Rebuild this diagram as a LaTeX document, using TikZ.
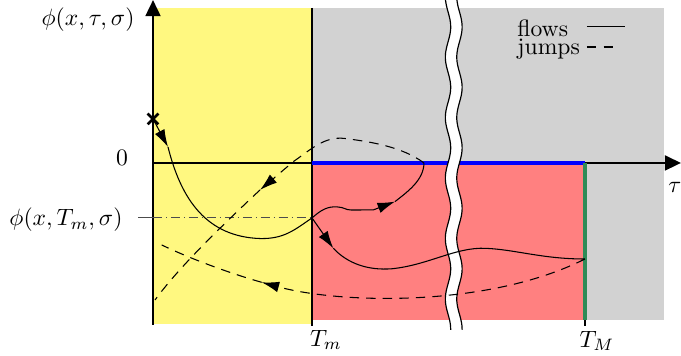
\documentclass[tikz,border=0pt]{standalone}
\usepackage{amsmath,amssymb}
\usepackage{xcolor}
\usetikzlibrary{arrows.meta}
\definecolor{seagrn}{RGB}{46,139,87}

\begin{document}
\begin{tikzpicture}[>={Latex[length=2.6mm,width=1.6mm]},
  fl/.style={black,line width=0.45pt},
  jp/.style={black,line width=0.45pt,dash pattern=on 4pt off 3pt},
  ax/.style={line width=1.1pt,-{Triangle[length=2.4mm,width=2.2mm]}}]
  \useasboundingbox (-2.277,-2.872) rectangle (7.857,2.425);
  % regions
  \fill[yellow!50] (0,-2.396) rectangle (2.366,2.306);
  \fill[gray!35] (2.366,-2.336) rectangle (7.604,2.306);
  \fill[red!50] (2.366,-2.336) rectangle (6.428,0);
  \draw[line width=0.5pt] (2.366,2.306) -- (2.366,-2.43);
  \draw[line width=0.5pt] (6.428,-2.336) -- (6.428,-2.43);
  % axes
  \draw[ax] (0,-2.41) -- (0,2.425);
  \draw[ax] (0,0) -- (7.857,0);
  \draw[blue,line width=1.8pt] (2.366,0) -- (6.428,0);
  \draw[seagrn,line width=1.8pt] (6.428,0) -- (6.428,-2.336);
  % break
  \fill[white] plot[domain=-2.485:2.425,samples=70,smooth,variable=\t] ({4.39+0.04*sin(400*\t)},\t)
    -- plot[domain=2.425:-2.485,samples=70,smooth,variable=\t] ({4.56+0.04*sin(400*\t)},\t) -- cycle;
  \draw[line width=0.5pt] plot[domain=-2.485:2.425,samples=70,smooth,variable=\t] ({4.39+0.04*sin(400*\t)},\t);
  \draw[line width=0.5pt] plot[domain=-2.485:2.425,samples=70,smooth,variable=\t] ({4.56+0.04*sin(400*\t)},\t);
  % labels
  \node (phi) at (-0.967,2.128) {$\phi(x,\tau,\sigma)$};
  \node (zero) at (-0.461,0.074) {$0$};
  \node (phim) at (-1.295,-0.848) {$\phi(x,T_m,\sigma)$};
  \node (tau) at (7.767,-0.357) {$\tau$};
  \node (Tm) at (2.574,-2.634) {$T_m$};
  \node (TM) at (6.607,-2.65) {$T_M$};
  \node[anchor=base west,inner sep=0pt] (lf) at (5.416,1.88) {flows};
  \node[anchor=base west,inner sep=0pt] (lj) at (5.416,1.607) {jumps};
  \draw[fl] (6.458,2.024) -- (7.023,2.024);
  \draw[jp] (6.458,1.726) -- (6.875,1.726);
  % key points
  \coordinate (x0) at (0,0.655);
  \coordinate (tm) at (2.366,-0.818);
  \coordinate (hit) at (4.032,0);
  \coordinate (tM) at (6.428,-1.429);
  \draw[black!70,line width=0.45pt] (-0.223,-0.818) -- (0,-0.818);
  \draw[black!70,line width=0.45pt,dash pattern=on 4pt off 1.5pt on 0.6pt off 1.5pt] (0,-0.818) -- (tm);
  % flows
  \draw[fl,->] (x0) -- (0.223,0.238);
  \draw[fl] (0.223,0.238) .. controls (0.42,-0.55) and (0.8,-1.1) .. (1.6,-1.125)
    .. controls (1.95,-1.13) and (2.1,-1.0) .. (tm);
  \draw[fl,->] (tm) .. controls (2.5,-0.7) and (2.6,-0.64) .. (2.75,-0.655)
    .. controls (2.85,-0.66) and (2.86,-0.7) .. (2.95,-0.7) -- (3.278,-0.699) -- (3.601,-0.575);
  \draw[fl] (3.601,-0.575) .. controls (3.8,-0.42) and (4.03,-0.25) .. (hit);
  \draw[fl,->] (tm) -- (2.683,-1.27);
  \draw[fl] (2.683,-1.27) .. controls (2.9,-1.5) and (3.2,-1.6) .. (3.55,-1.575)
    .. controls (4.1,-1.52) and (4.5,-1.25) .. (4.95,-1.27)
    .. controls (5.4,-1.29) and (5.8,-1.43) .. (tM);
  % jumps
  \draw[jp,->] (hit) .. controls (3.7,0.25) and (3.2,0.32) .. (2.85,0.365)
    .. controls (2.55,0.4) and (2.35,0.2) .. (2.088,0.02) -- (1.592,-0.402);
  \draw[jp] (1.592,-0.402) .. controls (0.9,-1.05) and (0.35,-1.6) .. (0.03,-2.039);
  \draw[jp,->] (tM) .. controls (5.0,-2.15) and (2.8,-2.1) .. (1.617,-1.776);
  \draw[jp] (1.617,-1.776) .. controls (1.1,-1.63) and (0.5,-1.4) .. (0.129,-1.22);
  % start point
  \draw[line width=1.1pt] (x0) ++(-0.08,-0.08) -- ++(0.16,0.16) (x0) ++(-0.08,0.08) -- ++(0.16,-0.16);
\end{tikzpicture}
\end{document}
